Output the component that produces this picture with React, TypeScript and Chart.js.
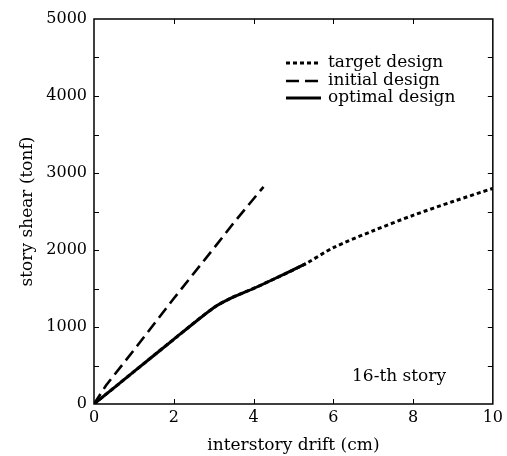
import React, { useEffect, useRef } from "react";
import { Chart, registerables } from "chart.js";

Chart.register(...registerables);

const targetDrift = [0, 1, 2, 3, 3.5, 4, 4.5, 5.3, 6, 7, 8, 9, 10];
const targetShear = [0, 420, 840, 1250, 1390, 1500, 1620, 1820, 2030, 2250, 2450, 2630, 2800];
const initialDrift = [0, 0.3, 1, 2, 3, 3.5, 4.25];
const initialShear = [0, 240, 700, 1370, 2020, 2350, 2820];
const optimalDrift = [0, 1, 2, 3, 3.5, 4, 4.5, 5.3];
const optimalShear = [0, 420, 840, 1250, 1390, 1500, 1620, 1820];
const seriesNames = ["target design", "initial design", "optimal design"];
const xTicks = [0, 2, 4, 6, 8, 10];
const yTicks = [0, 1000, 2000, 3000, 4000, 5000];
const noteText = "16-th story";

const FONT = "DejaVu Serif, serif";

function pts(xs: number[], ys: number[]) {
  return xs.map((x, i) => ({ x, y: ys[i] }));
}

export default function App() {
  const ref = useRef<HTMLCanvasElement | null>(null);
  useEffect(() => {
    document.body.style.margin = "0";
    const canvas = ref.current!;
    const dashes = [[4, 3], [12, 6], []];
    const widths = [3, 2.6, 3];
    const decor = {
      id: "decor",
      afterDraw(chart: any) {
        const ctx = chart.ctx;
        const a = chart.chartArea;
        const xs = chart.scales.x;
        const ys = chart.scales.y;
        ctx.save();
        ctx.strokeStyle = "#000";
        ctx.lineWidth = 1.5;
        ctx.setLineDash([]);
        ctx.strokeRect(a.left, a.top, a.right - a.left, a.bottom - a.top);
        ctx.lineWidth = 1;
        const tl = 5;
        for (let v = 500; v < 5000; v += 500) {
          const y = Math.round(ys.getPixelForValue(v)) + 0.5;
          ctx.beginPath();
          ctx.moveTo(a.left, y);
          ctx.lineTo(a.left + tl, y);
          ctx.moveTo(a.right, y);
          ctx.lineTo(a.right - tl, y);
          ctx.stroke();
        }
        for (let v = 2; v < 10; v += 2) {
          const x = Math.round(xs.getPixelForValue(v)) + 0.5;
          ctx.beginPath();
          ctx.moveTo(x, a.bottom);
          ctx.lineTo(x, a.bottom - tl);
          ctx.moveTo(x, a.top);
          ctx.lineTo(x, a.top + tl);
          ctx.stroke();
        }
        // legend
        ctx.font = "17px " + FONT;
        ctx.fillStyle = "#000";
        ctx.textBaseline = "middle";
        ctx.textAlign = "left";
        const rows = [63, 81, 98];
        seriesNames.forEach((n, i) => {
          ctx.beginPath();
          ctx.lineWidth = widths[i];
          ctx.setLineDash(i === 1 ? [13, 6] : dashes[i]);
          ctx.moveTo(286, rows[i]);
          ctx.lineTo(321, rows[i]);
          ctx.stroke();
          ctx.setLineDash([]);
          ctx.fillText(n, 328, rows[i]);
        });
        ctx.fillText(noteText, 352, 377);
        ctx.restore();
      },
    };
    const chart = new Chart(canvas, {
      type: "line",
      data: {
        datasets: [
          {
            label: seriesNames[0],
            data: pts(targetDrift, targetShear),
            borderColor: "#000",
            borderWidth: widths[0],
            borderDash: dashes[0],
            pointRadius: 0,
            tension: 0.3,
            fill: false,
          },
          {
            label: seriesNames[1],
            data: pts(initialDrift, initialShear),
            borderColor: "#000",
            borderWidth: widths[1],
            borderDash: dashes[1],
            pointRadius: 0,
            tension: 0,
            fill: false,
          },
          {
            label: seriesNames[2],
            data: pts(optimalDrift, optimalShear),
            borderColor: "#000",
            borderWidth: widths[2],
            pointRadius: 0,
            tension: 0.2,
            fill: false,
          },
        ],
      },
      options: {
        animation: false,
        responsive: false,
        layout: { padding: { top: 19, right: 9, left: 17, bottom: 0 } },
        plugins: { legend: { display: false }, tooltip: { enabled: false } },
        scales: {
          x: {
            type: "linear",
            min: 0,
            max: 10,
            afterFit: (s: any) => { s.height = 52; },
            afterBuildTicks: (s: any) => { s.ticks = xTicks.map((v) => ({ value: v })); },
            grid: { display: false, drawTicks: false },
            border: { display: false },
            ticks: { color: "#000", font: { family: FONT, size: 16 }, padding: 4, maxRotation: 0, callback: (v: any) => String(v) },
            title: { display: true, text: "interstory drift (cm)", color: "#000", font: { family: FONT, size: 17 }, padding: { top: 2, bottom: 0 } },
          },
          y: {
            type: "linear",
            min: 0,
            max: 5000,
            afterFit: (s: any) => { s.width = 77; },
            afterBuildTicks: (s: any) => { s.ticks = yTicks.map((v) => ({ value: v })); },
            grid: { display: false, drawTicks: false },
            border: { display: false },
            ticks: { color: "#000", font: { family: FONT, size: 16 }, padding: 7, callback: (v: any) => String(v) },
            title: { display: true, text: "story shear (tonf)", color: "#000", font: { family: FONT, size: 17 }, padding: 0 },
          },
        },
      },
      plugins: [decor],
    } as any);
    return () => chart.destroy();
  }, []);
  return <canvas ref={ref} width={507} height={456} style={{ display: "block" }} />;
}
